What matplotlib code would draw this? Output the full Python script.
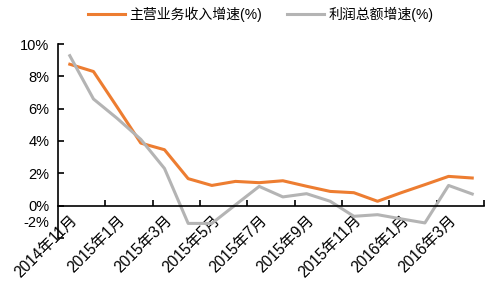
import matplotlib
matplotlib.use("Agg")
import matplotlib.pyplot as plt
import matplotlib.transforms as mtransforms

plt.rcParams['font.family'] = ['Liberation Sans', 'Noto Sans CJK SC', 'DejaVu Sans']

months = ["2014年11月", "2014年12月", "2015年1月", "2015年2月", "2015年3月", "2015年4月",
          "2015年5月", "2015年6月", "2015年7月", "2015年8月", "2015年9月", "2015年10月",
          "2015年11月", "2015年12月", "2016年1月", "2016年2月", "2016年3月", "2016年4月"]
revenue = [8.75, 8.3, 6.1, 3.87, 3.46, 1.67, 1.25, 1.5, 1.42, 1.54, 1.2, 0.88,
           0.8, 0.27, 0.8, 1.3, 1.81, 1.71]
profit = [9.28, 6.6, 5.4, 4.1, 2.3, -1.1, -1.1, 0.05, 1.19, 0.54, 0.74, 0.27,
          -0.66, -0.56, -0.82, -1.07, 1.25, 0.72]
yticks = [-2, 0, 2, 4, 6, 8, 10]

fig = plt.figure(figsize=(4.87, 2.86), dpi=100)
ax = fig.add_axes([0.119, 0.168, 0.875, 0.678])

x = list(range(len(months)))
ax.plot(x, revenue, color='#ED7D31', lw=2.2, label='主营业务收入增速(%)')
ax.plot(x, profit, color='#B4B4B4', lw=2.2, label='利润总额增速(%)')

ax.set_xlim(-0.5, len(months) - 0.5)
ax.set_ylim(-2, 10)

for s in ['top', 'right']:
    ax.spines[s].set_visible(False)
ax.spines['bottom'].set_position(('data', 0))
ax.spines['left'].set_linewidth(1.2)
ax.spines['bottom'].set_linewidth(1.2)

ax.set_yticks(yticks)
ax.set_yticklabels([f"{v}%" for v in yticks], fontsize=10.5)
ax.tick_params(axis='y', direction='in', length=4, width=1.2, pad=6)

# tick marks between category pairs, labels on every other month
ax.set_xticks([i + 1.5 for i in range(0, len(months), 2)])
ax.set_xticklabels([])
ax.tick_params(axis='x', which='major', direction='in', length=4, width=1.2)
ax.set_xticks(x[::2], minor=True)
ax.set_xticklabels(months[::2], minor=True, rotation=45, ha='right',
                   rotation_mode='anchor', fontsize=11.2)
ax.tick_params(axis='x', which='minor', length=0, pad=5)

# the -2% label sits higher in the original chart
lab = ax.get_yticklabels()[0]
lab.set_transform(lab.get_transform() + mtransforms.ScaledTranslation(0, 16 / 100, fig.dpi_scale_trans))

fig.legend(loc='upper center', bbox_to_anchor=(0.535, 1.02), ncol=2, frameon=False,
           fontsize=10, handlelength=2.7, columnspacing=1.8, handletextpad=0.3)

fig.savefig('out.png', dpi=100)
